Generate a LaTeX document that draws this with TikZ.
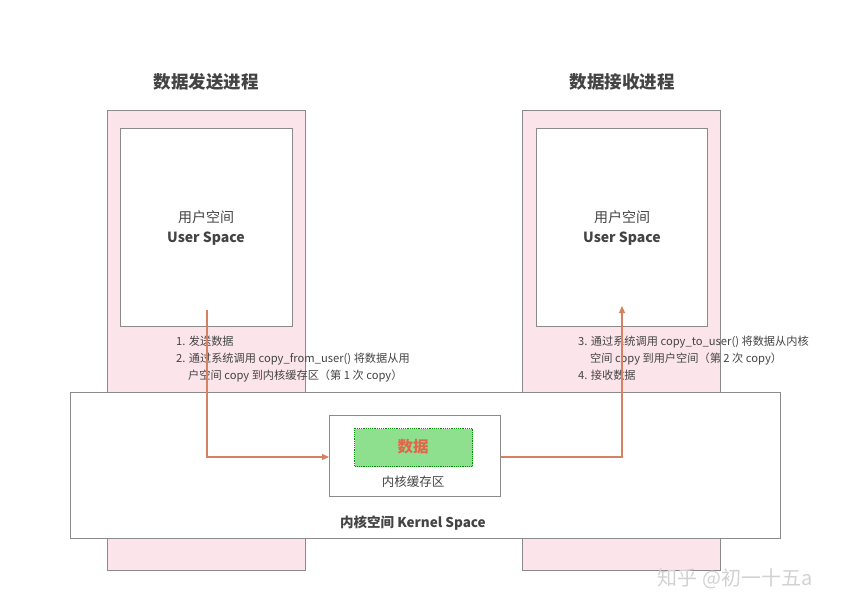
\documentclass[tikz,border=0pt]{standalone}
\usepackage{fontspec}
\setmainfont{Noto Sans CJK SC}
\usetikzlibrary{arrows.meta}
\definecolor{procpink}{HTML}{FBE5EA}
\definecolor{edgegray}{HTML}{8A8A8A}
\definecolor{arrowc}{HTML}{D4825F}
\definecolor{datagreen}{HTML}{8EE08E}
\definecolor{datared}{HTML}{E2674A}
\definecolor{txt}{HTML}{444444}
\begin{document}
\begin{tikzpicture}[x=1pt,y=-1pt,
  procbox/.style={draw=edgegray,fill=procpink,line width=0.9pt},
  whitebox/.style={draw=edgegray,fill=white,line width=0.9pt},
  flow/.style={draw=arrowc,line width=1.1pt,-{Triangle[length=7pt,width=6pt]}},
  title/.style={font=\fontsize{17.5}{20}\selectfont\bfseries,text=txt},
  note/.style={font=\fontsize{11.2}{17}\selectfont,text=txt,align=left,anchor=north west,inner sep=0pt}]
\useasboundingbox (0,0) rectangle (841,613);
\fill[white] (0,0) rectangle (841,613);
% process boxes
\draw[procbox] (107,110) rectangle (305,570);
\draw[procbox] (522,110) rectangle (720,570);
\node[whitebox,minimum width=172pt,minimum height=198pt,anchor=north west,inner sep=0pt] (us1) at (120,128) {};
\node[whitebox,minimum width=171pt,minimum height=198pt,anchor=north west,inner sep=0pt] (us2) at (536,128) {};
\node[title] (t1) at (206,82) {数据发送进程};
\node[title] (t2) at (622,82) {数据接收进程};
\node[font=\fontsize{14}{20}\selectfont,text=txt,align=center] (u1) at (206,228) {用户空间\\\textbf{User Space}};
\node[font=\fontsize{14}{20}\selectfont,text=txt,align=center] (u2) at (622,228) {用户空间\\\textbf{User Space}};
% notes
\node[note] (n1) at (176,336) {1. 发送数据\\2. 通过系统调用 copy\_from\_user() 将数据从用\\\hspace*{12pt}户空间 copy 到内核缓存区（第 1 次 copy）};
\node[note] (n2) at (578,336) {3. 通过系统调用 copy\_to\_user() 将数据从内核\\\hspace*{12pt}空间 copy 到用户空间（第 2 次 copy）\\4. 接收数据};
% kernel
\node[whitebox,minimum width=710pt,minimum height=146pt,anchor=north west,inner sep=0pt] (kern) at (70,392) {};
\node[font=\fontsize{13.5}{16}\selectfont\bfseries,text=txt] (klab) at (413,523) {内核空间 Kernel Space};
\node[whitebox,minimum width=171pt,minimum height=81pt,anchor=north west,inner sep=0pt] (buf) at (329,415) {};
\node[draw=green!55!black,densely dotted,line width=1.2pt,fill=datagreen,minimum width=118pt,minimum height=38pt,anchor=north west,inner sep=0pt] (data) at (354,428) {};
\node[font=\fontsize{15.5}{18}\selectfont\bfseries,text=datared] (dlab) at (413,447) {数据};
\node[font=\fontsize{12.5}{14}\selectfont,text=txt] (blab) at (413,482) {内核缓存区};
% arrows
\coordinate (s1) at (207,310);
\coordinate (e2) at (622,306);
\draw[flow] (s1) |- (buf.west |- 0,457);
\draw[flow] (buf.east |- 0,457) -| (e2);
% watermark
\node[font=\fontsize{20}{22}\selectfont,text=gray!35] (wm) at (735,579) {知乎 @初一十五a};
\end{tikzpicture}
\end{document}
